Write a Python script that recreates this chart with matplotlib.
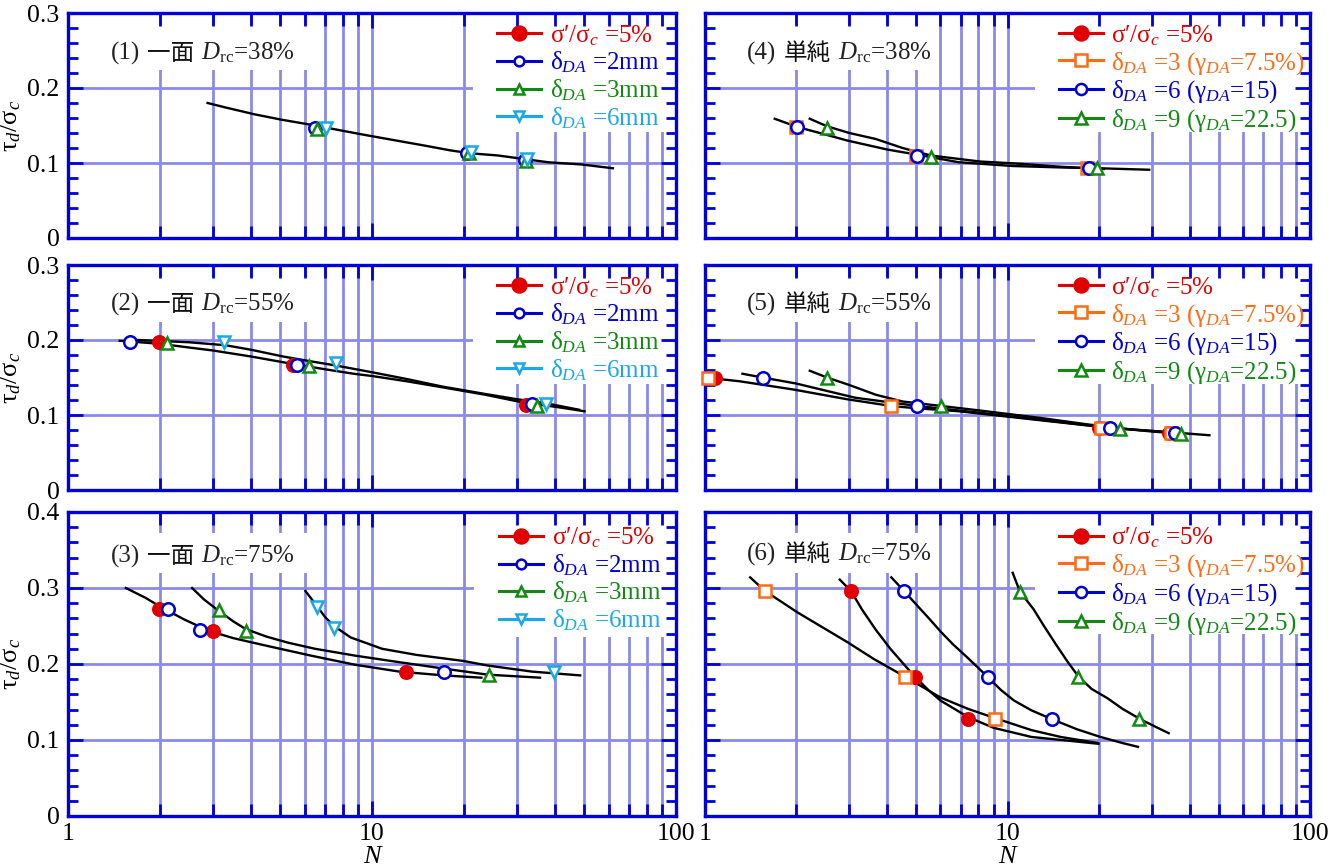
import matplotlib
matplotlib.use("Agg")
import matplotlib.pyplot as plt
from matplotlib.patches import Rectangle
from matplotlib.lines import Line2D
from matplotlib.ticker import FixedLocator, FuncFormatter, NullFormatter
from matplotlib.offsetbox import TextArea, HPacker, AnchoredOffsetbox

plt.rcParams['mathtext.fontset'] = 'custom'
plt.rcParams['mathtext.rm'] = 'Liberation Serif'
plt.rcParams['mathtext.it'] = 'Liberation Serif:italic'
plt.rcParams['mathtext.bf'] = 'Liberation Serif:bold'
SERIF = ['Liberation Serif', 'DejaVu Serif', 'Noto Sans CJK JP']
plt.rcParams['font.family'] = SERIF

# ---------------- data ----------------
# Panel 1: 一面 Drc=38%
p1_curve1_N = [2.88, 3.3, 4.1, 5.0, 6.5, 8.0, 9.6, 12, 15, 18, 21, 26, 32, 38, 49, 62]
p1_curve1_T = [0.180, 0.174, 0.165, 0.158, 0.150, 0.143, 0.137, 0.130, 0.123, 0.117, 0.113, 0.110, 0.105, 0.101, 0.098, 0.093]
p1_red_N, p1_red_T = [], []
p1_blue_N, p1_blue_T = [6.5, 20.6, 31.8], [0.147, 0.114, 0.104]
p1_green_N, p1_green_T = [6.6, 20.9, 32.2], [0.145, 0.113, 0.103]
p1_cyan_N, p1_cyan_T = [7.05, 21.2, 32.4], [0.147, 0.115, 0.105]

# Panel 2: 一面 Drc=55%
p2_curve1_N = [1.48, 2.0, 2.5, 3.0, 4.0, 5.5, 7.0, 8.7, 10, 13, 17, 23.6, 32, 40, 50]
p2_curve1_T = [0.199, 0.195, 0.190, 0.186, 0.178, 0.168, 0.161, 0.155, 0.152, 0.145, 0.137, 0.127, 0.116, 0.111, 0.105]
p2_curve2_N = [1.7, 2.5, 3.3, 4.0, 5.1, 6.2, 7.6, 10, 13, 17, 23.6, 30, 37, 48]
p2_curve2_T = [0.200, 0.197, 0.193, 0.187, 0.178, 0.172, 0.166, 0.157, 0.148, 0.138, 0.128, 0.121, 0.116, 0.107]
p2_red_N, p2_red_T = [1.99, 5.5, 32.2], [0.197, 0.167, 0.114]
p2_blue_N, p2_blue_T = [1.60, 5.65, 33.6], [0.197, 0.167, 0.115]
p2_green_N, p2_green_T = [2.12, 6.2, 34.8], [0.196, 0.166, 0.112]
p2_cyan_N, p2_cyan_T = [3.25, 7.6, 37.3], [0.197, 0.169, 0.115]

# Panel 3: 一面 Drc=75%
p3_curve1_N = [1.55, 1.8, 2.0, 2.4, 2.75, 3.0, 3.5, 4.5, 6.3, 8.8, 12.3, 17.2, 22.9]
p3_curve1_T = [0.300, 0.287, 0.276, 0.259, 0.248, 0.242, 0.234, 0.224, 0.211, 0.199, 0.190, 0.185, 0.182]
p3_curve2_N = [2.56, 2.8, 3.13, 3.5, 3.84, 4.5, 5.3, 6.5, 8.8, 12, 17.2, 24, 35.7]
p3_curve2_T = [0.300, 0.285, 0.270, 0.256, 0.246, 0.236, 0.228, 0.220, 0.211, 0.203, 0.194, 0.186, 0.182]
p3_curve3_N = [6.04, 6.6, 7.0, 7.5, 8.5, 10.8, 14, 20, 24, 33.6, 48.4]
p3_curve3_T = [0.296, 0.276, 0.262, 0.250, 0.235, 0.220, 0.212, 0.204, 0.198, 0.190, 0.185]
p3_red_N, p3_red_T = [1.99, 3.0, 12.9], [0.273, 0.244, 0.189]
p3_blue_N, p3_blue_T = [2.13, 2.72, 17.2], [0.272, 0.245, 0.189]
p3_green_N, p3_green_T = [3.13, 3.84, 24.3], [0.271, 0.244, 0.186]
p3_cyan_N, p3_cyan_T = [6.6, 7.5, 39.8], [0.275, 0.247, 0.190]

# Panel 4: 単純 Drc=38%
p4_curve1_N = [1.7, 2.02, 2.5, 2.95, 4.0, 5.04, 6.9, 10.4, 15.2, 20, 29.4]
p4_curve1_T = [0.159, 0.148, 0.138, 0.130, 0.118, 0.111, 0.101, 0.096, 0.094, 0.093, 0.091]
p4_curve2_N = [2.22, 2.53, 3.0, 3.67, 4.5, 5.58, 8.1, 11, 15, 20.8]
p4_curve2_T = [0.159, 0.149, 0.140, 0.132, 0.120, 0.110, 0.102, 0.099, 0.095, 0.092]
p4_red_N, p4_red_T = [], []
p4_orange_N, p4_orange_T = [2.0, 5.0, 18.3], [0.148, 0.110, 0.094]
p4_blue_N, p4_blue_T = [2.02, 5.04, 18.6], [0.148, 0.110, 0.094]
p4_green_N, p4_green_T = [2.53, 5.58, 19.7], [0.147, 0.108, 0.093]

# Panel 5: 単純 Drc=55%
p5_curve1_N = [1.0, 1.3, 1.96, 2.95, 4.13, 5.0, 6.9, 11, 15, 20.4, 27, 34.7, 46.5]
p5_curve1_T = [0.150, 0.145, 0.134, 0.121, 0.112, 0.109, 0.105, 0.096, 0.090, 0.084, 0.080, 0.077, 0.073]
p5_curve2_N = [1.33, 1.55, 2.0, 3.14, 5.04, 8.1, 12, 21.8, 35.7]
p5_curve2_T = [0.155, 0.150, 0.142, 0.123, 0.112, 0.103, 0.095, 0.083, 0.0765]
p5_curve3_N = [2.22, 2.53, 3.0, 3.67, 4.5, 6.05, 8.1, 12.9, 18, 23.6, 30, 37.5]
p5_curve3_T = [0.159, 0.150, 0.140, 0.127, 0.118, 0.112, 0.106, 0.096, 0.088, 0.082, 0.078, 0.075]
p5_red_N, p5_red_T = [1.08, 20.0, 34.2], [0.150, 0.083, 0.0765]
p5_orange_N, p5_orange_T = [1.02, 4.13, 20.4, 34.7], [0.150, 0.112, 0.083, 0.0765]
p5_blue_N, p5_blue_T = [1.55, 5.04, 21.8, 35.7], [0.150, 0.112, 0.083, 0.0765]
p5_green_N, p5_green_T = [2.53, 6.05, 23.6, 37.5], [0.150, 0.112, 0.082, 0.075]

# Panel 6: 単純 Drc=75%
p6_curve_red_N = [2.79, 3.04, 3.3, 3.67, 4.1, 4.58, 4.95, 5.5, 6.0, 7.42, 9, 12, 16, 20]
p6_curve_red_T = [0.311, 0.296, 0.272, 0.245, 0.220, 0.198, 0.183, 0.165, 0.152, 0.130, 0.116, 0.104, 0.099, 0.095]
p6_curve_orange_N = [1.41, 1.58, 2.02, 2.5, 2.95, 3.6, 4.6, 6.0, 7.4, 9.06, 12, 15, 19.9]
p6_curve_orange_T = [0.314, 0.296, 0.268, 0.246, 0.229, 0.207, 0.183, 0.156, 0.141, 0.129, 0.113, 0.104, 0.096]
p6_curve_blue_N = [4.13, 4.55, 5.0, 5.5, 6.0, 6.6, 7.3, 8.0, 8.6, 9.5, 10.5, 12, 14.1, 17, 20.3, 24, 27]
p6_curve_blue_T = [0.314, 0.296, 0.278, 0.260, 0.243, 0.226, 0.210, 0.195, 0.183, 0.166, 0.152, 0.139, 0.127, 0.114, 0.104, 0.096, 0.091]
p6_curve_green_N = [10.4, 11.0, 12.2, 13.2, 14.5, 15.8, 17.2, 19, 21.4, 24, 27.6, 31, 34.1]
p6_curve_green_T = [0.320, 0.295, 0.272, 0.250, 0.225, 0.203, 0.183, 0.167, 0.155, 0.141, 0.127, 0.117, 0.109]
p6_red_N, p6_red_T = [3.04, 4.95, 7.42], [0.296, 0.183, 0.127]
p6_orange_N, p6_orange_T = [1.58, 4.6, 9.06], [0.296, 0.183, 0.127]
p6_blue_N, p6_blue_T = [4.55, 8.6, 14.0], [0.296, 0.183, 0.127]
p6_green_N, p6_green_T = [11.0, 17.1, 27.3], [0.295, 0.183, 0.127]

left_labels = [r"σ′/σ$_c$ =5%", r"δ$_{DA}$ =2mm", r"δ$_{DA}$ =3mm", r"δ$_{DA}$ =6mm"]
right_labels = [r"σ′/σ$_c$ =5%", r"δ$_{DA}$ =3 (γ$_{DA}$=7.5%)",
                r"δ$_{DA}$ =6 (γ$_{DA}$=15)", r"δ$_{DA}$ =9 (γ$_{DA}$=22.5)"]
title_nums = ["(1)", "(2)", "(3)", "(4)", "(5)", "(6)"]
title_kinds = ["一面", "一面", "一面", "単純", "単純", "単純"]
title_drc = [r"$D_{\mathrm{rc}}$=38%", r"$D_{\mathrm{rc}}$=55%", r"$D_{\mathrm{rc}}$=75%",
             r"$D_{\mathrm{rc}}$=38%", r"$D_{\mathrm{rc}}$=55%", r"$D_{\mathrm{rc}}$=75%"]
x_ticks = [1, 10, 100]
x_minor = [2, 3, 4, 5, 6, 7, 8, 9, 20, 30, 40, 50, 60, 70, 80, 90]

# ---------------- style ----------------
RED = '#E00000'
ORANGE = '#FF6A14'
BLUE = '#0000D2'
GREEN = '#128A12'
CYAN = '#1AA8E6'
SPINE = '#0000DD'
GRID = '#8A8AEA'
MS = 9

fig = plt.figure(figsize=(13.39, 8.67), dpi=100)
W, H = 1339.0, 867.0
LX, LW = 68 / W, 608 / W
RX, RW = 705 / W, 605 / W
rows = [(1 - 238 / H, 225 / H), (1 - 490 / H, 225 / H), (1 - 816 / H, 304 / H)]


def setup(ax, ymax, is_left, is_bottom, idx, legend_box, title_box, title_y):
    ax.set_xscale('log')
    ax.set_xlim(1, 100)
    ax.set_ylim(0, ymax)
    ax.set_axisbelow(False)
    for v in x_minor + [10]:
        ax.axvline(v, color=GRID, lw=2.0, zorder=0.5)
    nmaj = int(round(ymax / 0.1))
    for i in range(1, nmaj):
        ax.axhline(i * 0.1, color=GRID, lw=2.0, zorder=0.5)
    ax.xaxis.set_major_locator(FixedLocator(x_ticks))
    ax.xaxis.set_minor_locator(FixedLocator(x_minor))
    ax.xaxis.set_minor_formatter(NullFormatter())
    ax.xaxis.set_major_formatter(FuncFormatter(lambda v, p: f"{v:g}"))
    ax.yaxis.set_major_locator(FixedLocator([i * 0.1 for i in range(nmaj + 1)]))
    ax.yaxis.set_minor_locator(FixedLocator([i * 0.02 for i in range(nmaj * 5 + 1)]))
    ax.yaxis.set_major_formatter(FuncFormatter(lambda v, p: '0' if abs(v) < 1e-9 else f"{v:.1f}"))
    ax.tick_params(which='both', direction='in', top=True, right=True, color=SPINE,
                   width=2.0, labelsize=18.5)
    ax.tick_params(axis='x', which='major', length=11, pad=5)
    ax.tick_params(axis='x', which='minor', length=9)
    ax.tick_params(axis='y', which='major', length=11, pad=6)
    ax.tick_params(axis='y', which='minor', length=7)
    ax.tick_params(labelleft=is_left, labelbottom=is_bottom)
    for s in ax.spines.values():
        s.set_color(SPINE)
        s.set_linewidth(2.4)
    # white boxes behind legend and title
    x0, y0 = legend_box
    ax.add_patch(Rectangle((x0, y0), 1 - x0, 1 - y0, transform=ax.transAxes,
                           facecolor='white', edgecolor='none', zorder=1))
    bx0, by0, bx1, by1 = title_box
    ax.add_patch(Rectangle((bx0, by0), bx1 - bx0, by1 - by0, transform=ax.transAxes,
                           facecolor='white', edgecolor='none', zorder=1))
    # title made of pieces so that the Japanese part uses a CJK font
    parts = [TextArea(title_nums[idx], textprops=dict(fontsize=18, family='Liberation Serif', color='#222222')),
             TextArea(title_kinds[idx], textprops=dict(fontsize=17, family='Noto Sans CJK JP', color='#111111')),
             TextArea(title_drc[idx], textprops=dict(fontsize=18, family='Liberation Serif', color='#222222'))]
    pack = HPacker(children=parts, align='baseline', pad=0, sep=5)
    anch = AnchoredOffsetbox(loc='center left', child=pack, pad=0, borderpad=0, frameon=False,
                             bbox_to_anchor=(0.070, title_y), bbox_transform=ax.transAxes)
    anch.set_zorder(2)
    ax.add_artist(anch)
    if is_left:
        ax.set_ylabel(r"τ$_d$/σ$_c$", fontsize=19, family=SERIF)
        ax.yaxis.set_label_coords(-0.074, 0.5)
    if is_bottom:
        ax.set_xlabel('N', fontsize=19, fontstyle='italic', family='Liberation Serif', labelpad=1)


def curve(ax, N, T):
    ax.plot(N, T, color='black', lw=1.7, zorder=3)


def marks(ax, N, T, color, marker, filled=False):
    if not N:
        return
    ax.plot(N, T, ls='none', marker=marker, ms=MS, mec=color, mfc=color if filled else 'white',
            mew=1.8, zorder=4, clip_on=False)


def handle(color, marker, filled=False, ms=8):
    return Line2D([], [], color=color, lw=2.2, marker=marker, ms=ms, mec=color,
                  mfc=color if filled else 'white', mew=1.8)


def add_legend(ax, handles, labels, anchor):
    leg = ax.legend(handles, labels, loc='upper left', bbox_to_anchor=anchor, frameon=False,
                    handlelength=1.75, handletextpad=0.35, labelspacing=0.08, borderpad=0,
                    borderaxespad=0, labelcolor='linecolor', prop={'family': SERIF, 'size': 18})
    leg.set_zorder(4)


left_handles = [handle(RED, 'o', True, 10), handle(BLUE, 'o', False, 7),
                handle(GREEN, '^', False, 7), handle(CYAN, 'v', False, 7)]
right_handles = [handle(RED, 'o', True, 10), handle(ORANGE, 's', False, 8),
                 handle(BLUE, 'o', False, 8), handle(GREEN, '^', False, 8)]

axs = []
for r in range(3):
    b, h = rows[r]
    axs.append(fig.add_axes([LX, b, LW, h]))
for r in range(3):
    b, h = rows[r]
    axs.append(fig.add_axes([RX, b, RW, h]))

tb_small = (0.048, 0.747, 0.40, 0.947)
tb_big = (0.048, 0.80, 0.40, 0.931)
tb_small_r = (0.055, 0.747, 0.385, 0.947)
tb_big_r = (0.055, 0.80, 0.385, 0.931)

# ---- panel 1
ax = axs[0]
setup(ax, 0.3, True, False, 0, (0.666, 0.47), tb_small, 0.822)
curve(ax, p1_curve1_N, p1_curve1_T)
marks(ax, p1_red_N, p1_red_T, RED, 'o', True)
marks(ax, p1_blue_N, p1_blue_T, BLUE, 'o')
marks(ax, p1_green_N, p1_green_T, GREEN, '^')
marks(ax, p1_cyan_N, p1_cyan_T, CYAN, 'v')
add_legend(ax, left_handles, left_labels, (0.706, 0.955))

# ---- panel 2
ax = axs[1]
setup(ax, 0.3, True, False, 1, (0.666, 0.47), tb_small, 0.827)
curve(ax, p2_curve1_N, p2_curve1_T)
curve(ax, p2_curve2_N, p2_curve2_T)
marks(ax, p2_red_N, p2_red_T, RED, 'o', True)
marks(ax, p2_blue_N, p2_blue_T, BLUE, 'o')
marks(ax, p2_green_N, p2_green_T, GREEN, '^')
marks(ax, p2_cyan_N, p2_cyan_T, CYAN, 'v')
add_legend(ax, left_handles, left_labels, (0.706, 0.955))

# ---- panel 3
ax = axs[2]
setup(ax, 0.4, True, True, 2, (0.668, 0.589), tb_big, 0.855)
curve(ax, p3_curve1_N, p3_curve1_T)
curve(ax, p3_curve2_N, p3_curve2_T)
curve(ax, p3_curve3_N, p3_curve3_T)
marks(ax, p3_red_N, p3_red_T, RED, 'o', True)
marks(ax, p3_blue_N, p3_blue_T, BLUE, 'o')
marks(ax, p3_green_N, p3_green_T, GREEN, '^')
marks(ax, p3_cyan_N, p3_cyan_T, CYAN, 'v')
add_legend(ax, left_handles, left_labels, (0.709, 0.955))

# ---- panel 4
ax = axs[3]
setup(ax, 0.3, False, False, 3, (0.545, 0.47), tb_small_r, 0.822)
curve(ax, p4_curve1_N, p4_curve1_T)
curve(ax, p4_curve2_N, p4_curve2_T)
marks(ax, p4_red_N, p4_red_T, RED, 'o', True)
marks(ax, p4_orange_N, p4_orange_T, ORANGE, 's')
marks(ax, p4_blue_N, p4_blue_T, BLUE, 'o')
marks(ax, p4_green_N, p4_green_T, GREEN, '^')
add_legend(ax, right_handles, right_labels, (0.585, 0.955))

# ---- panel 5
ax = axs[4]
setup(ax, 0.3, False, False, 4, (0.545, 0.47), tb_small_r, 0.827)
curve(ax, p5_curve1_N, p5_curve1_T)
curve(ax, p5_curve2_N, p5_curve2_T)
curve(ax, p5_curve3_N, p5_curve3_T)
marks(ax, p5_red_N, p5_red_T, RED, 'o', True)
marks(ax, p5_orange_N, p5_orange_T, ORANGE, 's')
marks(ax, p5_blue_N, p5_blue_T, BLUE, 'o')
marks(ax, p5_green_N, p5_green_T, GREEN, '^')
add_legend(ax, right_handles, right_labels, (0.585, 0.955))

# ---- panel 6
ax = axs[5]
setup(ax, 0.4, False, True, 5, (0.545, 0.60), tb_big_r, 0.862)
curve(ax, p6_curve_red_N, p6_curve_red_T)
curve(ax, p6_curve_orange_N, p6_curve_orange_T)
curve(ax, p6_curve_blue_N, p6_curve_blue_T)
curve(ax, p6_curve_green_N, p6_curve_green_T)
marks(ax, p6_red_N, p6_red_T, RED, 'o', True)
marks(ax, p6_orange_N, p6_orange_T, ORANGE, 's')
marks(ax, p6_blue_N, p6_blue_T, BLUE, 'o')
marks(ax, p6_green_N, p6_green_T, GREEN, '^')
add_legend(ax, right_handles, right_labels, (0.585, 0.955))

fig.savefig('out.png', dpi=100)
